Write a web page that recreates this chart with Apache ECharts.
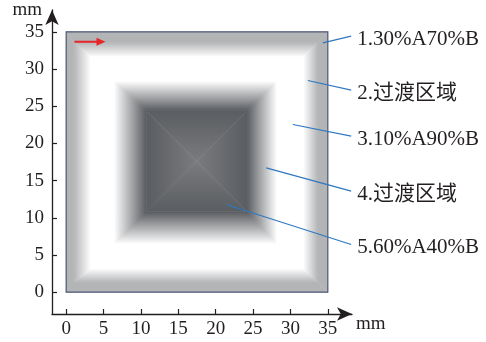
<!DOCTYPE html>
<html>
<head>
<meta charset="utf-8">
<script src="https://cdn.jsdelivr.net/npm/echarts@6/dist/echarts.min.js"></script>
<style>
html, body { margin: 0; padding: 0; background: #fff; }
#main { width: 486px; height: 342px; }
</style>
</head>
<body>
<div id="main"></div>
<script>
var tickValues = [0, 5, 10, 15, 20, 25, 30, 35];

// nested squares of the sample, outer -> inner (mm)
var levelX0 = [0, 1.0, 3.3, 6.4, 10.7];
var levelY0 = [0, 1.3, 3.2, 6.5, 10.8];
var levelX1 = [35, 33.7, 31.7, 28.2, 24.2];
var levelY1 = [35, 33.6, 31.6, 28.4, 24.4];
var levelColors = ['#b3b4b6', '#b3b4b6', '#ffffff', '#ffffff', '#5a5d61'];
var centerPoint = [17.45, 17.6];
var centerColor = '#7a7b7e';

// callouts
var noteNames = ['1.30%A70%B', '2.过渡区域', '3.10%A90%B', '4.过渡区域', '5.60%A40%B'];
var noteFromX = [34.33, 32.33, 30.32, 26.76, 21.41];
var noteFromY = [33.52, 28.45, 22.54, 16.72, 11.79];
var noteToX = [38.13, 38.13, 38.13, 38.13, 38.13];
var noteToY = [34.41, 27.15, 20.97, 13.58, 6.41];

// red arrow
var arrowX = [1.11, 5.26];
var arrowY = [33.66, 33.66];

var serifFont = '"Liberation Serif", "Noto Sans CJK SC", serif';

var zoneData = [];
var zoneColors = [];
for (var i = 0; i < levelX0.length; i++) {
    if (i < levelX0.length - 1) {
        zoneData.push([levelX0[i], levelY0[i], levelX1[i], levelY1[i],
            levelX0[i + 1], levelY0[i + 1], levelX1[i + 1], levelY1[i + 1]]);
        zoneColors.push([levelColors[i], levelColors[i + 1]]);
    } else {
        zoneData.push([levelX0[i], levelY0[i], levelX1[i], levelY1[i],
            centerPoint[0], centerPoint[1], centerPoint[0], centerPoint[1]]);
        zoneColors.push([levelColors[i], centerColor]);
    }
}

var noteData = [];
for (var k = 0; k < noteNames.length; k++) {
    noteData.push([noteFromX[k], noteFromY[k], noteToX[k], noteToY[k]]);
}

function grad(x, y, x2, y2, c0, c1) {
    return {
        type: 'linear', x: x, y: y, x2: x2, y2: y2, global: true,
        colorStops: [{offset: 0, color: c0}, {offset: 1, color: c1}]
    };
}

function side(points, g) {
    return {
        type: 'polygon',
        shape: {points: points},
        style: {fill: g, stroke: g, lineWidth: 0.6}
    };
}

function renderZone(params, api) {
    var o0 = api.coord([api.value(0), api.value(1)]);
    var o1 = api.coord([api.value(2), api.value(3)]);
    var i0 = api.coord([api.value(4), api.value(5)]);
    var i1 = api.coord([api.value(6), api.value(7)]);
    var c = zoneColors[params.dataIndex];
    var oBL = [o0[0], o0[1]], oBR = [o1[0], o0[1]], oTR = [o1[0], o1[1]], oTL = [o0[0], o1[1]];
    var iBL = [i0[0], i0[1]], iBR = [i1[0], i0[1]], iTR = [i1[0], i1[1]], iTL = [i0[0], i1[1]];
    var children = [
        side([oBL, oBR, iBR, iBL], grad(0, o0[1], 0, i0[1], c[0], c[1])),
        side([oTL, oTR, iTR, iTL], grad(0, o1[1], 0, i1[1], c[0], c[1])),
        side([oBL, oTL, iTL, iBL], grad(o0[0], 0, i0[0], 0, c[0], c[1])),
        side([oBR, oTR, iTR, iBR], grad(o1[0], 0, i1[0], 0, c[0], c[1]))
    ];
    return {type: 'group', children: children};
}

function renderFrame(params, api) {
    var p0 = api.coord([api.value(0), api.value(1)]);
    var p1 = api.coord([api.value(2), api.value(3)]);
    return {
        type: 'rect',
        shape: {x: p0[0], y: p1[1], width: p1[0] - p0[0], height: p0[1] - p1[1]},
        style: {fill: null, stroke: '#525a78', lineWidth: 1.2}
    };
}

function renderNote(params, api) {
    var a = api.coord([api.value(0), api.value(1)]);
    var b = api.coord([api.value(2), api.value(3)]);
    return {
        type: 'group',
        children: [{
            type: 'line',
            shape: {x1: a[0], y1: a[1], x2: b[0], y2: b[1]},
            style: {stroke: '#2f78c0', lineWidth: 1.2}
        }, {
            type: 'text',
            style: {
                text: noteNames[params.dataIndex],
                x: b[0] + 6, y: b[1] + 3,
                align: 'left', verticalAlign: 'middle',
                fill: '#231f20', fontSize: 21, fontFamily: serifFont
            }
        }]
    };
}

function renderArrow(params, api) {
    var a = api.coord([api.value(0), api.value(1)]);
    var b = api.coord([api.value(2), api.value(3)]);
    return {
        type: 'group',
        children: [{
            type: 'line',
            shape: {x1: a[0], y1: a[1], x2: b[0] - 6, y2: b[1]},
            style: {stroke: '#e8262a', lineWidth: 2}
        }, {
            type: 'polygon',
            shape: {points: [[b[0], b[1]], [b[0] - 9, b[1] - 4], [b[0] - 9, b[1] + 4]]},
            style: {fill: '#e8262a'}
        }]
    };
}

var axisColor = '#231f20';

function makeAxis(min, max, isX) {
    return {
        type: 'value',
        min: min,
        max: max,
        name: 'mm',
        nameLocation: 'end',
        nameGap: isX ? 4 : 0,
        nameTextStyle: isX ? {
            color: axisColor, fontSize: 19, fontFamily: serifFont,
            verticalAlign: 'top', align: 'left', padding: [1, 0, 0, 0]
        } : {
            color: axisColor, fontSize: 19, fontFamily: serifFont,
            verticalAlign: 'middle', align: 'right', padding: [8, 10, 0, 0]
        },
        splitLine: {show: false},
        axisLine: {
            show: true,
            onZero: false,
            symbol: ['none', 'arrow'],
            symbolSize: [10, 15],
            lineStyle: {color: axisColor, width: 1.3}
        },
        axisTick: {
            show: true,
            inside: true,
            length: 5,
            customValues: tickValues,
            lineStyle: {color: axisColor, width: 1.2}
        },
        axisLabel: {
            customValues: tickValues,
            color: axisColor,
            fontSize: 19,
            fontFamily: serifFont,
            margin: isX ? 6 : 8
        }
    };
}

var chart = echarts.init(document.getElementById('main'));
chart.setOption({
    animation: false,
    grid: {left: 52, top: 10, width: 300, height: 304, containLabel: false},
    xAxis: makeAxis(-1.9, 38.24, true),
    yAxis: makeAxis(-2.93, 37.93, false),
    series: [{
        type: 'custom',
        renderItem: renderZone,
        data: zoneData,
        silent: true
    }, {
        type: 'custom',
        renderItem: renderFrame,
        data: [[levelX0[0], levelY0[0], levelX1[0], levelY1[0]]],
        silent: true
    }, {
        type: 'custom',
        renderItem: renderArrow,
        data: [[arrowX[0], arrowY[0], arrowX[1], arrowY[1]]],
        silent: true
    }, {
        type: 'custom',
        renderItem: renderNote,
        data: noteData,
        silent: true
    }]
});
</script>
</body>
</html>
